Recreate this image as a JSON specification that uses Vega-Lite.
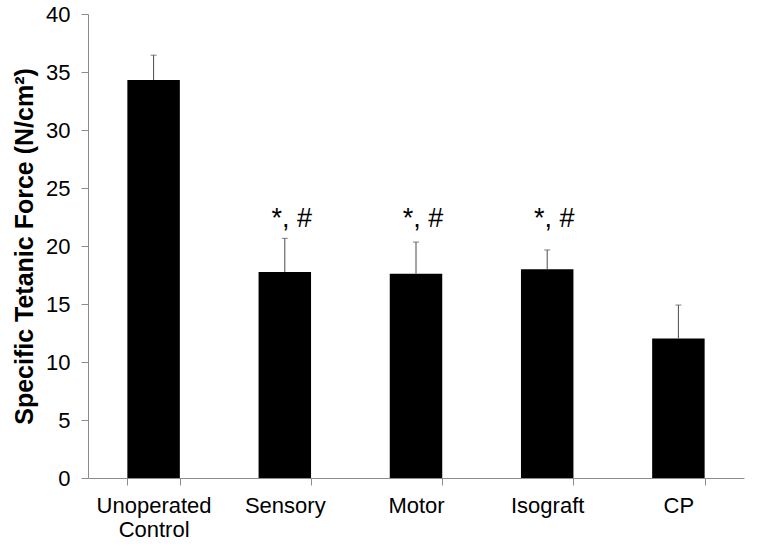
{
  "$schema": "https://vega.github.io/schema/vega-lite/v6.json",
  "width": 656,
  "height": 464,
  "autosize": {"type": "none"},
  "padding": {"left": 88, "top": 14, "right": 20, "bottom": 70},
  "background": "white",
  "config": {
    "view": {"stroke": null},
    "font": "Liberation Sans",
    "axis": {"grid": false, "domainColor": "#8c8c8c", "tickColor": "#8c8c8c", "labelColor": "#000000", "titleColor": "#000000", "labelFont": "Liberation Sans", "titleFont": "Liberation Sans"}
  },
  "data": {
    "values": [
      {"group": "Unoperated Control", "value": 34.3, "hi": 36.45, "sig": ""},
      {"group": "Sensory", "value": 17.76, "hi": 20.66, "sig": "*, #"},
      {"group": "Motor", "value": 17.61, "hi": 20.34, "sig": "*, #"},
      {"group": "Isograft", "value": 18.0, "hi": 19.66, "sig": "*, #"},
      {"group": "CP", "value": 12.03, "hi": 14.91, "sig": ""}
    ]
  },
  "encoding": {
    "x": {
      "field": "group",
      "type": "nominal",
      "sort": null,
      "scale": {"paddingInner": 0.6, "paddingOuter": 0.3},
      "axis": {
        "title": null,
        "labelAngle": 0,
        "labelFontSize": 22,
        "labelPadding": 10,
        "labelLineHeight": 24,
        "tickBand": "extent",
        "tickSize": 7,
        "labelExpr": "datum.label == 'Unoperated Control' ? ['Unoperated', 'Control'] : datum.label"
      }
    }
  },
  "layer": [
    {
      "mark": {"type": "bar", "color": "#000000"},
      "encoding": {
        "y": {
          "field": "value",
          "type": "quantitative",
          "scale": {"domain": [0, 40], "nice": false},
          "axis": {
            "values": [0, 5, 10, 15, 20, 25, 30, 35, 40],
            "title": "Specific Tetanic Force (N/cm²)",
            "titleFontSize": 25,
            "titleFontWeight": "bold",
            "titlePadding": 8,
            "labelFontSize": 22,
            "labelPadding": 11,
            "tickSize": 7
          }
        }
      }
    },
    {
      "mark": {"type": "rule", "color": "#4a4a4a", "strokeWidth": 1},
      "encoding": {
        "y": {"field": "value", "type": "quantitative"},
        "y2": {"field": "hi"}
      }
    },
    {
      "mark": {"type": "tick", "color": "#4a4a4a", "orient": "horizontal", "size": 6, "thickness": 1},
      "encoding": {
        "y": {"field": "hi", "type": "quantitative"}
      }
    },
    {
      "mark": {"type": "text", "fontSize": 27, "baseline": "alphabetic", "dx": 7, "color": "#000000"},
      "encoding": {
        "y": {"datum": 21.6},
        "text": {"field": "sig"}
      }
    }
  ]
}
